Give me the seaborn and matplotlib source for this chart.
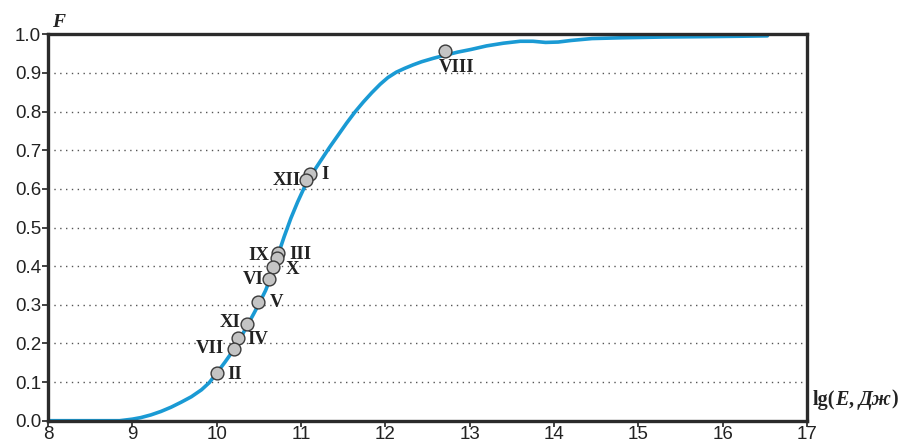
import matplotlib
matplotlib.use("Agg")
import matplotlib.pyplot as plt
import seaborn as sns
import pandas as pd

# Smooth CDF curve
curve_x = [8.0, 8.5, 8.85, 9.0, 9.1, 9.22, 9.34, 9.46, 9.58, 9.7, 9.82, 9.91, 9.99,
           10.1, 10.21, 10.29, 10.37, 10.44, 10.51, 10.58, 10.65, 10.72, 10.8,
           10.88, 10.96, 11.04, 11.14, 11.24, 11.34, 11.44, 11.54, 11.64, 11.74,
           11.84, 11.94, 12.03, 12.13, 12.23, 12.33, 12.43, 12.57, 12.71, 12.86,
           13.02, 13.2, 13.4, 13.6, 13.75, 13.9, 14.05, 14.2, 14.45, 14.8, 15.3,
           15.8, 16.2, 16.53]
curve_F = [0.0, 0.0, 0.0, 0.004, 0.008, 0.015, 0.024, 0.035, 0.048, 0.062, 0.08, 0.098, 0.12,
           0.152, 0.186, 0.217, 0.249, 0.277, 0.306, 0.337, 0.376, 0.424, 0.476,
           0.524, 0.566, 0.604, 0.642, 0.675, 0.708, 0.739, 0.77, 0.799, 0.825,
           0.849, 0.871, 0.888, 0.902, 0.912, 0.921, 0.929, 0.938, 0.946, 0.954,
           0.961, 0.970, 0.977, 0.982, 0.982, 0.979, 0.980, 0.984, 0.989, 0.991, 0.993,
           0.994, 0.995, 0.996]

# Individual events
point_labels = ["I", "XII", "III", "IX", "X", "VI", "V", "XI", "IV", "VII", "II", "VIII"]
point_x = [11.11, 11.055, 10.73, 10.715, 10.665, 10.615, 10.49, 10.355, 10.255, 10.2, 10.0, 12.71]
point_F = [0.639, 0.624, 0.434, 0.420, 0.397, 0.366, 0.306, 0.251, 0.213, 0.186, 0.123, 0.958]

x_ticks = [8, 9, 10, 11, 12, 13, 14, 15, 16, 17]
y_ticks = [0.0, 0.1, 0.2, 0.3, 0.4, 0.5, 0.6, 0.7, 0.8, 0.9, 1.0]

# label offsets (pixels) and alignment
label_pos = {
    "I": (11, -1, "left"), "XII": (-5, -1, "right"), "III": (11, -1, "left"),
    "IX": (-8, 3, "right"), "X": (13, -2, "left"), "VI": (-5, 0, "right"),
    "V": (12, 0, "left"), "XI": (-6, 1, "right"), "IV": (9, -1, "left"),
    "VII": (-9, 0, "right"), "II": (11, -1, "left"), "VIII": (11, -17, "center"),
}

sns.set_theme(style="white")
plt.rcParams["font.family"] = ["Liberation Sans", "DejaVu Sans"]

fig = plt.figure(figsize=(9.02, 4.45), dpi=100)
ax = fig.add_axes([0.0532, 0.0546, 0.8415, 0.8683])

df_curve = pd.DataFrame({"x": curve_x, "F": curve_F})
df_pts = pd.DataFrame({"x": point_x, "F": point_F, "label": point_labels})

ax.yaxis.grid(True, linestyle=(0, (1, 3.2)), color="#555555", linewidth=1.0)
ax.set_axisbelow(True)

sns.lineplot(data=df_curve, x="x", y="F", ax=ax, color="#1a9ad4", linewidth=2.6,
             sort=False, zorder=3)
ax.lines[-1].set_solid_joinstyle("round")
ax.lines[-1].set_solid_capstyle("round")
sns.scatterplot(data=df_pts, x="x", y="F", ax=ax, s=85, color="#c4c4c4",
                edgecolor="#3a3a3a", linewidth=1.0, zorder=4)

for lab, px, pf in zip(point_labels, point_x, point_F):
    dx, dy, ha = label_pos[lab]
    ax.annotate(lab, (px, pf), xytext=(dx, dy), textcoords="offset pixels",
                ha=ha, va="center", fontsize=13.5, fontweight="bold",
                family="Liberation Serif", color="#222222", zorder=5)

ax.set_xlim(8, 17)
ax.set_ylim(0, 1.0)
ax.set_xticks(x_ticks)
ax.set_yticks(y_ticks)
ax.set_xticklabels([str(t) for t in x_ticks])
ax.set_yticklabels([f"{t:.1f}" for t in y_ticks])
ax.tick_params(axis="both", direction="out", length=4, width=1.3, color="#333333",
               labelsize=13.5, labelcolor="#222222", pad=1,
               bottom=True, left=True)
ax.tick_params(axis="x", pad=0)
ax.set_xlabel("")
ax.set_ylabel("")

for sp in ax.spines.values():
    sp.set_visible(True)
    sp.set_color("#2b2b2b")
    sp.set_linewidth(2.4)
    sp.set_zorder(6)

# Axis titles
fig.text(0.0573, 0.94, "F", fontsize=14, fontweight="bold", fontstyle="italic",
         family="Liberation Serif", color="#222222", ha="left", va="baseline")

t1 = fig.text(0.901, 0.09, "lg(", fontsize=14.5, fontweight="bold",
              family="Liberation Serif", color="#222222", ha="left", va="baseline")
t2 = ax.annotate("E", xy=(1, 0), xycoords=t1, fontsize=14.5, fontweight="bold",
                 fontstyle="italic", family="Liberation Serif", color="#222222",
                 ha="left", va="bottom")
t3 = ax.annotate(", ", xy=(1, 0), xycoords=t2, fontsize=14.5, fontweight="bold",
                 family="Liberation Serif", color="#222222", ha="left", va="bottom")
t4 = ax.annotate("Дж", xy=(1, 0), xycoords=t3, fontsize=14.5, fontweight="bold",
                 fontstyle="italic", family="Liberation Serif", color="#222222",
                 ha="left", va="bottom")
t5 = ax.annotate(")", xy=(1, 0), xycoords=t4, fontsize=14.5, fontweight="bold",
                 family="Liberation Serif", color="#222222", ha="left", va="bottom")
for t in (t2, t3, t4, t5):
    t.set_annotation_clip(False)

fig.savefig("out.png", dpi=100)
